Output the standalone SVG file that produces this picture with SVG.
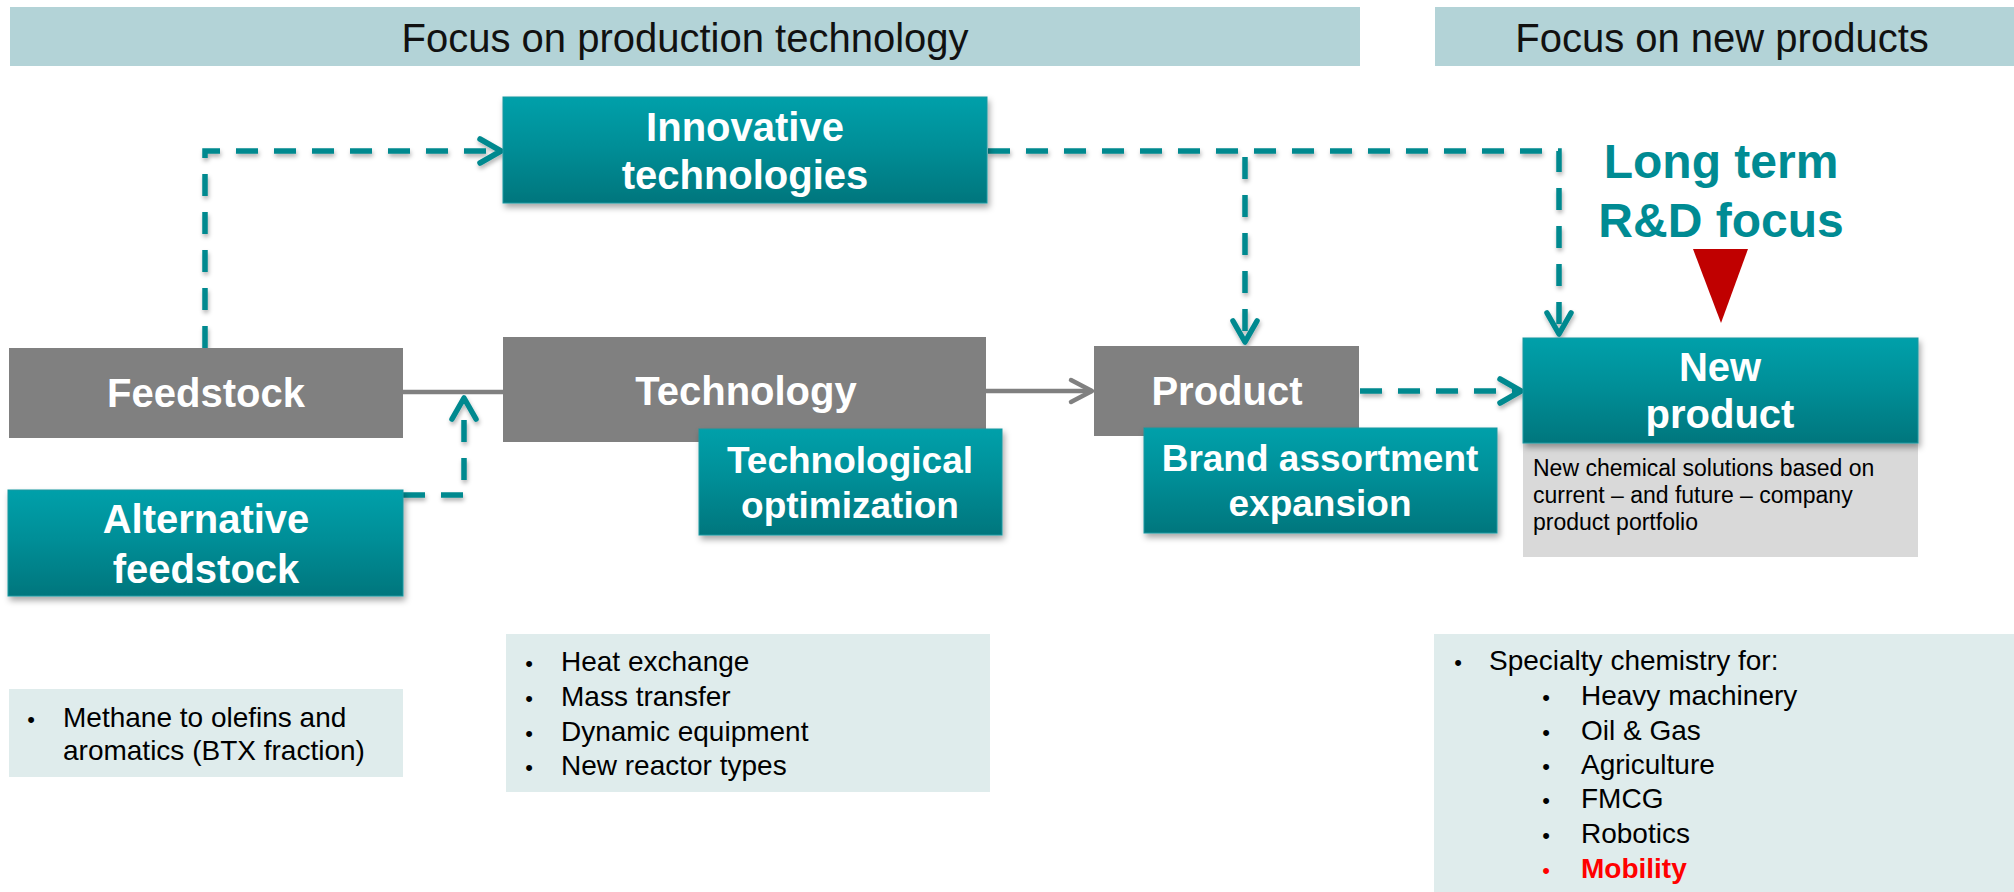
<svg xmlns="http://www.w3.org/2000/svg" width="2014" height="892" viewBox="0 0 2014 892">
  <defs>
    <linearGradient id="tealGrad" x1="0" y1="0" x2="0" y2="1">
      <stop offset="0" stop-color="#00A0AA"/>
      <stop offset="0.45" stop-color="#008F98"/>
      <stop offset="1" stop-color="#00767D"/>
    </linearGradient>
    <filter id="shadow" x="-10%" y="-10%" width="125%" height="140%">
      <feDropShadow dx="2" dy="4" stdDeviation="3" flood-color="#000" flood-opacity="0.35"/>
    </filter>
    <filter id="lineShadow" x="-5%" y="-5%" width="110%" height="110%">
      <feDropShadow dx="1" dy="3" stdDeviation="2" flood-color="#000" flood-opacity="0.3"/>
    </filter>
    <marker id="arrowTeal" viewBox="-26 -16 30 32" markerWidth="30" markerHeight="32" refX="0" refY="0" markerUnits="userSpaceOnUse" orient="auto" overflow="visible">
      <path d="M-21,-12 L0,0 L-21,12" fill="none" stroke="#00898F" stroke-width="5.5" stroke-linecap="round" stroke-linejoin="round"/>
    </marker>
    <marker id="arrowGray" viewBox="-26 -16 30 32" markerWidth="30" markerHeight="32" refX="0" refY="0" markerUnits="userSpaceOnUse" orient="auto" overflow="visible">
      <path d="M-21,-11 L0,0 L-21,11" fill="none" stroke="#808080" stroke-width="4.5" stroke-linecap="round" stroke-linejoin="round"/>
    </marker>
  </defs>
  <style>
    text { font-family: "Liberation Sans", Arial, sans-serif; }
    .band { fill: #B3D3D7; }
    .bandText { font-size: 40px; fill: #111; text-anchor: middle; }
    .teal { fill: url(#tealGrad); stroke: #1597A0; stroke-width: 1; filter: url(#shadow); }
    .gray { fill: #808080; }
    .label { fill: #FFFFFF; font-weight: bold; font-size: 40px; text-anchor: middle; }
    .labelSm { fill: #FFFFFF; font-weight: bold; font-size: 37px; text-anchor: middle; }
    .note { fill: #DFECEC; }
    .noteText { font-size: 28px; fill: #000; }
    .bullet { font-size: 22px; fill: #000; text-anchor: middle; }
    .desc { fill: #D9D9D9; }
    .descText { font-size: 23px; fill: #000; }
    .focus { fill: #008B93; font-weight: bold; font-size: 48px; text-anchor: middle; }
    .dash { fill: none; stroke: #00898F; stroke-width: 5.5; stroke-dasharray: 22 16; }
    .solid { fill: none; stroke: #808080; stroke-width: 4.5; }
    .hot { fill: #FF0000; }
  </style>

  <rect width="2014" height="892" fill="#FFFFFF"/>

  <!-- section headers -->
  <g id="header-production">
    <rect class="band" x="10" y="7" width="1350" height="59"/>
    <text class="bandText" x="685" y="52">Focus on production technology</text>
  </g>
  <g id="header-products">
    <rect class="band" x="1435" y="7" width="579" height="59"/>
    <text class="bandText" x="1722" y="52">Focus on new products</text>
  </g>

  <!-- connectors -->
  <g id="connectors">
    <g filter="url(#lineShadow)">
      <path class="dash" d="M205,348 V151 H501" marker-end="url(#arrowTeal)"/>
      <path class="dash" d="M988,151 H1559 V334" marker-end="url(#arrowTeal)"/>
      <path class="dash" d="M1245,157 V342" marker-end="url(#arrowTeal)"/>
      <path class="dash" d="M1360,391 H1521" marker-end="url(#arrowTeal)"/>
      <path class="dash" d="M403,495 H464 V398" marker-end="url(#arrowTeal)"/>
    </g>
    <path class="solid" d="M403,392 H503"/>
    <path class="solid" d="M986,391 H1092" marker-end="url(#arrowGray)"/>
  </g>

  <!-- main flow -->
  <g id="innovative-technologies">
    <rect class="teal" x="503" y="97" width="484" height="106"/>
    <text class="label" x="745" y="141">Innovative</text>
    <text class="label" x="745" y="189">technologies</text>
  </g>

  <g id="feedstock">
    <rect class="gray" x="9" y="348" width="394" height="90"/>
    <text class="label" x="206" y="407">Feedstock</text>
  </g>

  <g id="technology">
    <rect class="gray" x="503" y="337" width="483" height="105"/>
    <text class="label" x="746" y="405">Technology</text>
  </g>

  <g id="technological-optimization">
    <rect class="teal" x="699" y="429" width="303" height="106"/>
    <text class="labelSm" x="850" y="473">Technological</text>
    <text class="labelSm" x="850" y="518">optimization</text>
  </g>

  <g id="product">
    <rect class="gray" x="1094" y="346" width="265" height="90"/>
    <text class="label" x="1227" y="405">Product</text>
  </g>

  <g id="brand-assortment">
    <rect class="teal" x="1144" y="428" width="353" height="105"/>
    <text class="labelSm" x="1320" y="471">Brand assortment</text>
    <text class="labelSm" x="1320" y="516">expansion</text>
  </g>

  <g id="new-product">
    <rect class="desc" x="1523" y="443" width="395" height="114"/>
    <rect class="teal" x="1523" y="338" width="395" height="105"/>
    <text class="label" x="1720" y="381">New</text>
    <text class="label" x="1720" y="428">product</text>
    <text class="descText" x="1533" y="476">New chemical solutions based on</text>
    <text class="descText" x="1533" y="503">current – and future – company</text>
    <text class="descText" x="1533" y="530">product portfolio</text>
  </g>

  <g id="alternative-feedstock">
    <rect class="teal" x="8" y="490" width="395" height="106"/>
    <text class="label" x="206" y="533">Alternative</text>
    <text class="label" x="206" y="583">feedstock</text>
  </g>

  <!-- long term focus callout -->
  <g id="long-term-focus">
    <text class="focus" x="1721" y="178">Long term</text>
    <text class="focus" x="1721" y="237">R&amp;D focus</text>
    <polygon points="1693,249 1748,249 1721,323" fill="#C00000"/>
  </g>

  <!-- detail lists -->
  <g id="feedstock-notes">
    <rect class="note" x="9" y="689" width="394" height="88"/>
    <text class="bullet" x="31" y="727">•</text>
    <text class="noteText" x="63" y="727">Methane to olefins and</text>
    <text class="noteText" x="63" y="760">aromatics (BTX fraction)</text>
  </g>

  <g id="technology-notes">
    <rect class="note" x="506" y="634" width="484" height="158"/>
    <text class="bullet" x="529" y="671">•</text>
    <text class="noteText" x="561" y="671">Heat exchange</text>
    <text class="bullet" x="529" y="706">•</text>
    <text class="noteText" x="561" y="706">Mass transfer</text>
    <text class="bullet" x="529" y="741">•</text>
    <text class="noteText" x="561" y="741">Dynamic equipment</text>
    <text class="bullet" x="529" y="775">•</text>
    <text class="noteText" x="561" y="775">New reactor types</text>
  </g>

  <g id="product-notes">
    <rect class="note" x="1434" y="634" width="580" height="258"/>
    <text class="bullet" x="1458" y="670">•</text>
    <text class="noteText" x="1489" y="670">Specialty chemistry for:</text>
    <text class="bullet" x="1546" y="705">•</text>
    <text class="noteText" x="1581" y="705">Heavy machinery</text>
    <text class="bullet" x="1546" y="740">•</text>
    <text class="noteText" x="1581" y="740">Oil &amp; Gas</text>
    <text class="bullet" x="1546" y="774">•</text>
    <text class="noteText" x="1581" y="774">Agriculture</text>
    <text class="bullet" x="1546" y="808">•</text>
    <text class="noteText" x="1581" y="808">FMCG</text>
    <text class="bullet" x="1546" y="843">•</text>
    <text class="noteText" x="1581" y="843">Robotics</text>
    <text class="bullet hot" x="1546" y="878">•</text>
    <text class="noteText hot" x="1581" y="878" font-weight="bold">Mobility</text>
  </g>
</svg>
